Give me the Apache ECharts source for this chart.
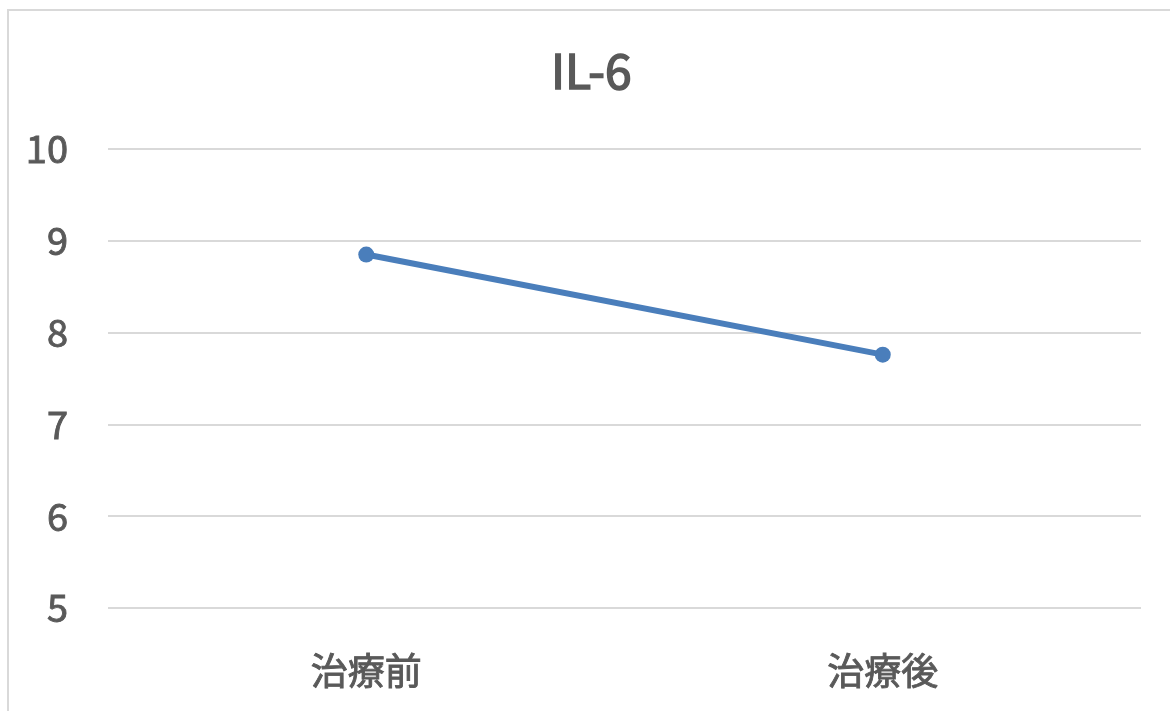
<!DOCTYPE html>
<html>
<head>
<meta charset="utf-8">
<script src="https://cdn.jsdelivr.net/npm/echarts@6/dist/echarts.min.js"></script>
<style>
  html, body { margin: 0; padding: 0; background: #ffffff; }
  #chart { width: 1170px; height: 711px; }
</style>
</head>
<body>
<div id="chart"></div>
<script>
// IL-6 before and after treatment
const categories = ['治療前', '治療後'];
const il6Values = [8.85, 7.76];
const yTicks = { min: 5, max: 10, interval: 1 };

const textColor = '#595959';
const fontFamily = '"Noto Sans CJK JP", "Noto Sans", sans-serif';

const chart = echarts.init(document.getElementById('chart'), null, { renderer: 'canvas' });

chart.setOption({
  backgroundColor: '#ffffff',
  animation: false,
  graphic: [{
    type: 'rect',
    shape: { x: 8, y: 10, width: 1300, height: 900 },
    style: { fill: 'none', stroke: '#d9d9d9', lineWidth: 2 },
    silent: true
  }],
  title: {
    text: 'IL-6',
    left: 546,
    top: 42,
    textStyle: {
      color: textColor, fontSize: 48, fontWeight: 'normal', fontFamily: fontFamily,
      textBorderColor: textColor, textBorderWidth: 1.6
    }
  },
  grid: { left: 108, right: 29, top: 149, bottom: 103, containLabel: false },
  xAxis: {
    type: 'category',
    data: categories,
    boundaryGap: true,
    axisLine: { show: false },
    axisTick: { show: false },
    axisLabel: {
      color: textColor, fontSize: 37, fontFamily: fontFamily, margin: 44,
      textBorderColor: textColor, textBorderWidth: 0.9
    }
  },
  yAxis: {
    type: 'value',
    min: yTicks.min,
    max: yTicks.max,
    interval: yTicks.interval,
    axisLine: { show: false },
    axisTick: { show: false },
    axisLabel: {
      color: textColor, fontSize: 38, fontFamily: fontFamily, margin: 40,
      textBorderColor: textColor, textBorderWidth: 0.9
    },
    splitLine: { lineStyle: { color: '#d9d9d9', width: 2 } }
  },
  series: [{
    type: 'line',
    data: il6Values,
    symbol: 'circle',
    symbolSize: 16,
    lineStyle: { color: '#4a7ebb', width: 6 },
    itemStyle: { color: '#4a7ebb' }
  }]
});
</script>
</body>
</html>
